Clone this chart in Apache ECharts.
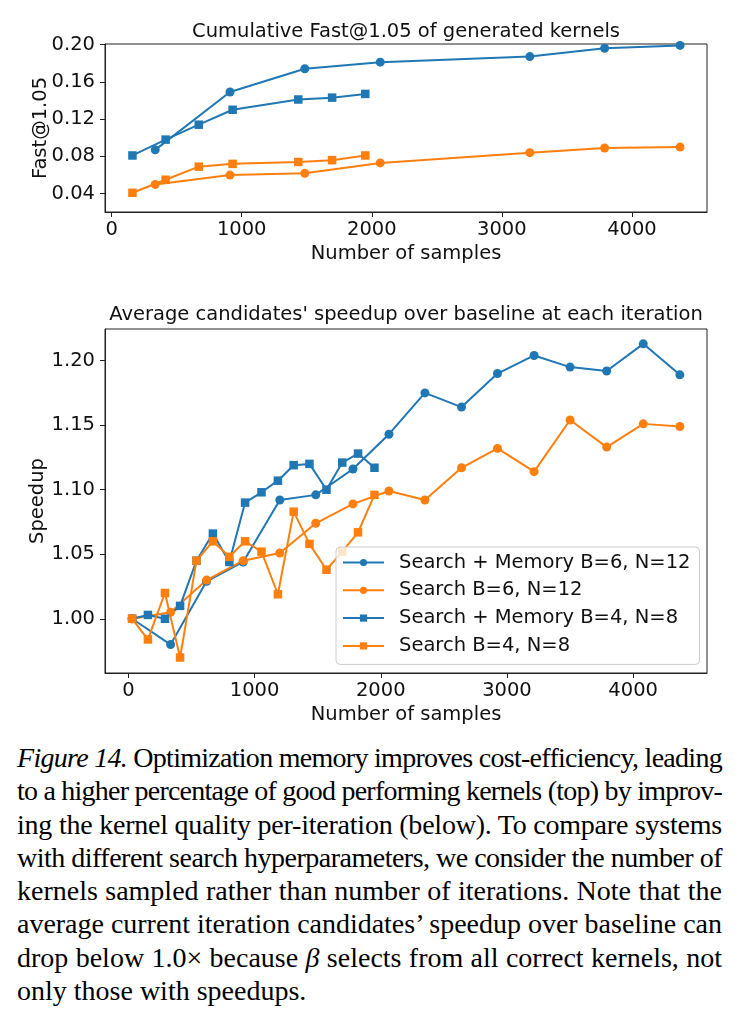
<!DOCTYPE html>
<html>
<head>
<meta charset="utf-8">
<script src="https://cdn.jsdelivr.net/npm/echarts@6/dist/echarts.min.js"></script>
<style>
  html, body { margin: 0; padding: 0; background: #fff; }
  #chart { position: absolute; left: 0; top: 0; width: 739px; height: 735px; }
  #caption { position: absolute; left: 17px; top: 741px; width: 705px;
    font-family: 'Liberation Serif', serif; font-size: 28px; color: #000; }
  .ln { height: 33.3px; line-height: 33.3px; white-space: nowrap; }
  .ln span { display: inline-block; white-space: nowrap; }
</style>
</head>
<body>
<div id="chart"></div>
<div id="caption">
  <div class="ln"><span><i>Figure 14.</i> Optimization memory improves cost-efficiency, leading</span></div>
  <div class="ln"><span>to a higher percentage of good performing kernels (top) by improv-</span></div>
  <div class="ln"><span>ing the kernel quality per-iteration (below). To compare systems</span></div>
  <div class="ln"><span>with different search hyperparameters, we consider the number of</span></div>
  <div class="ln"><span>kernels sampled rather than number of iterations. Note that the</span></div>
  <div class="ln"><span>average current iteration candidates’ speedup over baseline can</span></div>
  <div class="ln"><span>drop below 1.0× because <i>β</i> selects from all correct kernels, not</span></div>
  <div class="ln last"><span>only those with speedups.</span></div>
</div>
<script>
// series names (legend order)
const names = ['Search + Memory B=6, N=12', 'Search B=6, N=12', 'Search + Memory B=4, N=8', 'Search B=4, N=8'];

// top chart: cumulative Fast@1.05
const topB6X = [335, 910, 1485, 2065, 3215, 3790, 4370];
const topB4X = [160, 415, 670, 930, 1435, 1695, 1950];
const fastMemB6 = [0.087, 0.149, 0.174, 0.181, 0.187, 0.196, 0.199];
const fastSearchB6 = [0.050, 0.060, 0.062, 0.073, 0.084, 0.089, 0.090];
const fastMemB4 = [0.081, 0.098, 0.114, 0.130, 0.141, 0.143, 0.147];
const fastSearchB4 = [0.041, 0.055, 0.069, 0.072, 0.074, 0.076, 0.081];

// bottom chart: average speedup per iteration
const b6X = [30, 335, 620, 910, 1200, 1485, 1780, 2065, 2350, 2640, 2925, 3215, 3500, 3790, 4080, 4370];
const b4X = [30, 155, 290, 410, 540, 670, 800, 925, 1055, 1185, 1310, 1435, 1570, 1695, 1820, 1950];
const speedMemB6 = [1.000, 0.980, 1.029, 1.044, 1.092, 1.096, 1.116, 1.143, 1.175, 1.164, 1.190, 1.204, 1.195, 1.192, 1.213, 1.189];
const speedSearchB6 = [1.000, 1.005, 1.030, 1.045, 1.051, 1.074, 1.089, 1.099, 1.092, 1.117, 1.132, 1.114, 1.154, 1.133, 1.151, 1.149];
const speedMemB4 = [1.000, 1.003, 1.000, 1.010, 1.045, 1.066, 1.044, 1.090, 1.098, 1.107, 1.119, 1.120, 1.100, 1.121, 1.128, 1.117];
const speedSearchB4 = [1.000, 0.984, 1.020, 0.970, 1.045, 1.060, 1.048, 1.060, 1.052, 1.019, 1.083, 1.058, 1.038, 1.052, 1.067, 1.096];

// tick labels
const xTicks = [0, 1000, 2000, 3000, 4000];
const topYTicks = [0.04, 0.08, 0.12, 0.16, 0.20];
const bottomYTicks = [1.00, 1.05, 1.10, 1.15, 1.20];

const FONT = 'DejaVu Sans';
const FS = 19.5;
const BLUE = '#1f77b4', ORANGE = '#ff7f0e';
const TXT = '#111';

function pairs(xs, ys) { return xs.map((x, i) => [x, ys[i]]); }

function xAxis(gridIndex, min, max) {
  return {
    type: 'value', gridIndex: gridIndex, min: min, max: max,
    name: 'Number of samples', nameLocation: 'middle', nameGap: 32,
    nameTextStyle: { fontSize: FS, fontFamily: FONT, color: TXT },
    axisLine: { show: true, onZero: false, lineStyle: { color: '#222', width: 1 } },
    axisTick: { show: true, length: 5, customValues: xTicks, lineStyle: { color: '#222', width: 1 } },
    axisLabel: { customValues: xTicks, margin: 8, fontSize: FS, fontFamily: FONT, color: TXT,
      formatter: v => String(v) },
    splitLine: { show: false }
  };
}

function yAxis(gridIndex, min, max, ticks, name, gap) {
  return {
    type: 'value', gridIndex: gridIndex, min: min, max: max,
    name: name, nameLocation: 'middle', nameGap: gap, nameRotate: 90,
    nameMoveOverlap: false,
    nameTextStyle: { fontSize: FS, fontFamily: FONT, color: TXT },
    axisLine: { show: true, onZero: false, lineStyle: { color: '#222', width: 1 } },
    axisTick: { show: true, length: 5, customValues: ticks, lineStyle: { color: '#222', width: 1 } },
    axisLabel: { customValues: ticks, margin: 10, fontSize: FS, fontFamily: FONT, color: TXT,
      formatter: v => v.toFixed(2) },
    splitLine: { show: false }
  };
}

function line(name, idx, data, color, symbol) {
  return {
    type: 'line', name: name, xAxisIndex: idx, yAxisIndex: idx, data: data,
    symbol: symbol, symbolSize: symbol === 'circle' ? 9 : 8.5, showAllSymbol: true,
    lineStyle: { color: color, width: 2 },
    itemStyle: { color: color },
    emphasis: { disabled: true }
  };
}

const chart = echarts.init(document.getElementById('chart'));
chart.setOption({
  animation: false,
  textStyle: { fontFamily: FONT },
  grid: [
    { left: 105, right: 32, top: 44, height: 168, show: true, borderColor: '#222', borderWidth: 1 },
    { left: 105, right: 32, top: 329, height: 344, show: true, borderColor: '#222', borderWidth: 1 }
  ],
  xAxis: [xAxis(0, -51, 4577), xAxis(1, -185, 4585)],
  yAxis: [
    yAxis(0, 0.0204, 0.2005, topYTicks, 'Fast@1.05', 54),
    yAxis(1, 0.958, 1.2245, bottomYTicks, 'Speedup', 57)
  ],
  graphic: [
    { type: 'text', x: 406, y: 32, style: { text: 'Cumulative Fast@1.05 of generated kernels',
      fontSize: FS, fontFamily: FONT, fill: TXT, textAlign: 'center', textVerticalAlign: 'middle' } },
    { type: 'text', x: 406, y: 315, style: { text: "Average candidates' speedup over baseline at each iteration",
      fontSize: FS, fontFamily: FONT, fill: TXT, textAlign: 'center', textVerticalAlign: 'middle' } }
  ],
  legend: {
    data: names, orient: 'vertical', left: 336, top: 547,
    itemWidth: 41, itemHeight: 9, itemGap: 7.8,
    padding: [5.5, 9, 8.5, 6],
    backgroundColor: 'rgba(255,255,255,0.8)', borderColor: '#cccccc', borderWidth: 1, borderRadius: 4,
    textStyle: { fontSize: FS, lineHeight: 19.5, fontFamily: FONT, color: TXT, padding: [0, 0, 0, 10] },
    selectedMode: false
  },
  series: [
    line(names[0], 0, pairs(topB6X, fastMemB6), BLUE, 'circle'),
    line(names[1], 0, pairs(topB6X, fastSearchB6), ORANGE, 'circle'),
    line(names[2], 0, pairs(topB4X, fastMemB4), BLUE, 'rect'),
    line(names[3], 0, pairs(topB4X, fastSearchB4), ORANGE, 'rect'),
    line(names[0], 1, pairs(b6X, speedMemB6), BLUE, 'circle'),
    line(names[1], 1, pairs(b6X, speedSearchB6), ORANGE, 'circle'),
    line(names[2], 1, pairs(b4X, speedMemB4), BLUE, 'rect'),
    line(names[3], 1, pairs(b4X, speedSearchB4), ORANGE, 'rect')
  ]
});

// justify caption lines to the column width
document.querySelectorAll('#caption .ln').forEach(function (ln) {
  if (ln.classList.contains('last')) return;
  const span = ln.querySelector('span');
  const w = span.getBoundingClientRect().width;
  const diff = 705 - w;
  const spaces = (span.textContent.match(/ /g) || []).length;
  if (diff >= 0) {
    span.style.wordSpacing = (diff / spaces) + 'px';
  } else {
    span.style.letterSpacing = (diff / span.textContent.length) + 'px';
  }
});
</script>
</body>
</html>
